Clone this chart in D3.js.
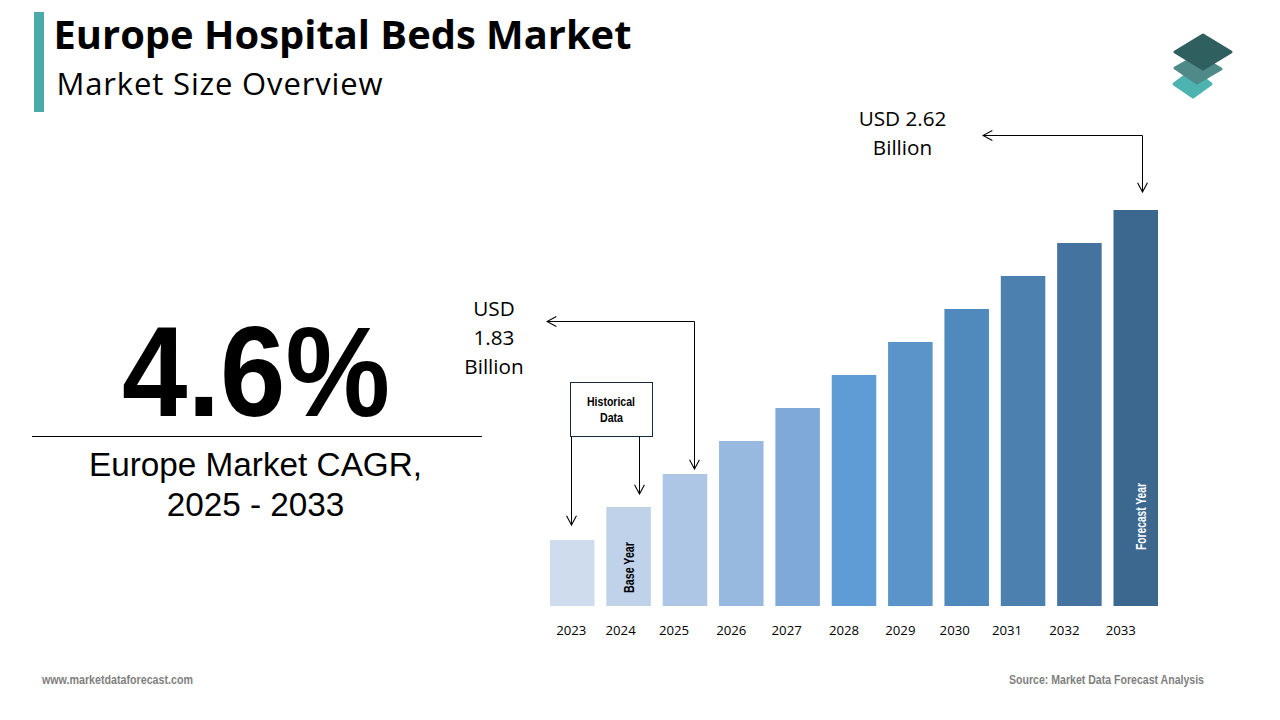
<!DOCTYPE html>
<html lang="en">
<head>
<meta charset="utf-8">
<title>Europe Hospital Beds Market</title>
<script src="https://cdn.jsdelivr.net/npm/d3@7"></script>
<style>
  html, body { margin:0; padding:0; background:#fff; }
  svg { display:block; }
  text { fill:#000; }
  .narrow { font-family:"Liberation Sans",sans-serif; font-weight:bold; }
</style>
</head>
<body>
<div id="chart"></div>
<script>
var years = [2023, 2024, 2025, 2026, 2027, 2028, 2029, 2030, 2031, 2032, 2033];
var barValues = [2, 3, 4, 5, 6, 7, 8, 9, 10, 11, 12];
var barColors = ["#cfdcee", "#bfd2e9", "#aec6e5", "#98b9df", "#7fa9d9", "#5f9cd5",
                 "#5a94c9", "#5089bb", "#4c80ae", "#44739f", "#3c678f"];
// the year labels in the source sit a bit left of their bars
var labelShift = [-1, -8, -11, -10, -11, -10, -10, -12, -16, -15, -15];

var svg = d3.select("#chart").append("svg").attr("width", 1280).attr("height", 720);

var x = d3.scaleBand().domain(years).range([550, 1158]).paddingInner(0.21).paddingOuter(0);
var y = d3.scaleLinear().domain([0, 12]).range([606, 210]);

// squeezed text, there is no condensed face installed so fit it to the measured width
function narrowText(g, txt, w, size, color) {
  return g.append("text").attr("class", "narrow")
    .attr("textLength", w).attr("lengthAdjust", "spacingAndGlyphs")
    .style("font-size", size + "px").style("fill", color).text(txt);
}

// header
svg.append("rect").attr("x", 34).attr("y", 12).attr("width", 10).attr("height", 100).attr("fill", "#4aa9a9");
svg.append("text").attr("x", 53.5).attr("y", 49)
  .attr("textLength", 578).attr("lengthAdjust", "spacingAndGlyphs")
  .style("font", "bold 39px 'Open Sans'").text("Europe Hospital Beds Market");
svg.append("text").attr("x", 56.5).attr("y", 95)
  .attr("textLength", 326)
  .style("font", "400 31px 'Open Sans'").text("Market Size Overview");

// logo
var logo = svg.append("g").attr("stroke-linejoin", "round").attr("stroke-width", 3);
[["#4cb3b0", "1193,70 1211,84 1193,97 1174,84"],
 ["#4f8a88", "1198,55 1221,69 1197,83 1175,68"],
 ["#2f5f5e", "1203,35 1231,52 1203,69 1175,52"]].forEach(function(d) {
  logo.append("polygon").attr("points", d[1]).attr("fill", d[0]).attr("stroke", d[0]);
});

// left panel
svg.append("text").attr("x", 122).attr("y", 415.5)
  .attr("textLength", 268).attr("lengthAdjust", "spacingAndGlyphs")
  .style("font", "bold 128px 'Liberation Sans'").text("4.6%");
svg.append("line").attr("x1", 32).attr("x2", 482).attr("y1", 436.5).attr("y2", 436.5).attr("stroke", "#000");
svg.append("text").attr("x", 255.5).attr("y", 476).attr("text-anchor", "middle")
  .style("font", "33.3px 'Liberation Sans'").text("Europe Market CAGR,");
svg.append("text").attr("x", 255.5).attr("y", 516).attr("text-anchor", "middle")
  .style("font", "33.3px 'Liberation Sans'").text("2025 - 2033");

// bars
svg.selectAll("rect.bar").data(barValues).enter().append("rect")
  .attr("class", "bar")
  .attr("x", function(d, i) { return x(years[i]); })
  .attr("y", function(d) { return y(d); })
  .attr("width", x.bandwidth())
  .attr("height", function(d) { return y(0) - y(d); })
  .attr("fill", function(d, i) { return barColors[i]; });

// year axis
var axis = svg.append("g").attr("transform", "translate(0,606)")
  .call(d3.axisBottom(x).tickSize(0).tickPadding(20));
axis.select(".domain").remove();
axis.selectAll(".tick").attr("transform", function(d, i) {
  return "translate(" + (x(d) + x.bandwidth() / 2 + labelShift[i]) + ",0)";
});
axis.selectAll("text").style("font", "13.2px 'Open Sans'").style("fill", "#000");

// inside-bar notes
function barNote(year, dx, cy, txt, w, color) {
  var cx = x(year) + x.bandwidth() / 2 + dx;
  narrowText(svg, txt, w, 14, color)
    .attr("transform", "translate(" + cx + "," + cy + ") rotate(-90)")
    .attr("text-anchor", "middle").attr("dy", "0.35em");
}
barNote(2024, 0, 567.5, "Base Year", 51, "#000");
barNote(2033, 5, 516.5, "Forecast Year", 67, "#fff");

// arrows
svg.append("defs").append("marker").attr("id", "open")
  .attr("viewBox", "0 0 10 10").attr("refX", 9.5).attr("refY", 5)
  .attr("markerUnits", "userSpaceOnUse").attr("markerWidth", 11).attr("markerHeight", 11)
  .attr("orient", "auto")
  .append("path").attr("d", "M1,0.5L9.5,5L1,9.5").attr("fill", "none").attr("stroke", "#000").attr("stroke-width", 1);

function arrow(pts) {
  svg.append("path").attr("d", d3.line()(pts)).attr("fill", "none")
    .attr("stroke", "#000").attr("stroke-width", 1).attr("marker-end", "url(#open)");
}
arrow([[1142.5, 135.5], [983, 135.5]]);
arrow([[1142.5, 135.5], [1142.5, 192]]);
arrow([[694.5, 321.5], [547, 321.5]]);
arrow([[694.5, 321.5], [694.5, 469]]);
arrow([[571.5, 436], [571.5, 525]]);
arrow([[639.5, 436], [639.5, 494]]);

// historical data box
svg.append("rect").attr("x", 570.5).attr("y", 382.5).attr("width", 82).attr("height", 54)
  .attr("fill", "#fff").attr("stroke", "#14293d");
narrowText(svg, "Historical", 48, 13, "#000").attr("x", 611).attr("y", 406).attr("text-anchor", "middle");
narrowText(svg, "Data", 23, 13, "#000").attr("x", 611.5).attr("y", 422).attr("text-anchor", "middle");

// callouts
[["USD 2.62", 902.5, 125.5], ["Billion", 902.5, 155],
 ["USD", 494, 315.5], ["1.83", 494, 345], ["Billion", 494, 374]].forEach(function(d) {
  svg.append("text").attr("x", d[1]).attr("y", d[2]).attr("text-anchor", "middle")
    .style("font", "20.7px 'Open Sans'").text(d[0]);
});

// footer
narrowText(svg, "www.marketdataforecast.com", 151, 12.5, "#7f7f7f").attr("x", 42).attr("y", 684);
narrowText(svg, "Source: Market Data Forecast Analysis", 195, 12.5, "#7f7f7f").attr("x", 1009).attr("y", 684);
</script>
</body>
</html>
